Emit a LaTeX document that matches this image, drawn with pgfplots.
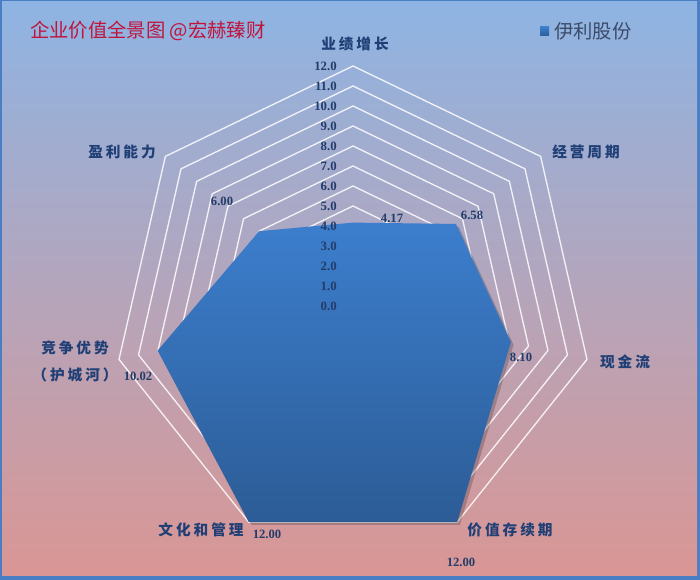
\documentclass[border=0pt]{standalone}
\usepackage{pgfplots}
\pgfplotsset{compat=1.18}
\usepackage{pgfplotstable}
\usepgfplotslibrary{polar}
\usepackage{fontspec}
\setmainfont{Liberation Serif}
\newfontfamily\cjk{Noto Sans CJK SC}
\newfontfamily\cjkcat[LetterSpace=20]{Noto Sans CJK SC}

\definecolor{bgTop}{RGB}{142,180,227}
\definecolor{bgBot}{RGB}{218,150,148}
\definecolor{frame}{RGB}{74,126,196}
\definecolor{polyTop}{RGB}{60,126,205}
\definecolor{polyBot}{RGB}{44,92,150}
\definecolor{titleRed}{RGB}{192,20,60}
\definecolor{labBlue}{RGB}{31,63,118}
\definecolor{numBlue}{RGB}{35,60,105}
\definecolor{legGray}{RGB}{60,75,105}

% angle (deg, polar) and value for each of the seven spokes
\pgfplotstableread{
angle value
90 4.17
38.571 6.58
347.143 8.10
295.714 12.00
244.286 12.00
192.857 10.02
141.429 6.00
90 4.17
}\radar

\begin{document}
\begin{tikzpicture}[x=0.75pt,y=-0.75pt]
% background and frame
\fill[frame] (0,0) rectangle (700,580);
\shade[top color=bgTop, bottom color=bgBot] (2,2) rectangle (697,576);
\coordinate (C) at (353,306);

\begin{polaraxis}[
  at={(C)}, anchor=origin,
  width=360pt, height=360pt, scale only axis,
  xmin=0, xmax=360, ymin=0, ymax=12,
  hide axis, clip=false, no markers,
]
% heptagonal rings
\pgfplotsinvokeforeach{1,...,12}{
  \addplot[white, opacity=0.85, line width=1pt] coordinates {
    (90,#1) (38.571,#1) (347.143,#1) (295.714,#1)
    (244.286,#1) (192.857,#1) (141.429,#1) (90,#1)};
}
% shadow and area
\addplot[draw=none, fill=black, opacity=0.2, xshift=2pt, yshift=-2pt]
  table[x=angle, y=value] {\radar};
\addplot[draw=none, top color=polyTop, bottom color=polyBot]
  table[x=angle, y=value] {\radar};
\end{polaraxis}

% radial tick labels
\foreach \k in {0,...,12}{
  \node[anchor=east, font=\bfseries\fontsize{9.6}{11}\selectfont, text=numBlue, inner sep=0pt]
    at (337,306-20*\k) {\k.0};
}

% data labels
\begin{scope}[every node/.style={font=\bfseries\fontsize{9.5}{11}\selectfont, text=numBlue, inner sep=0pt}]
\node at (392,218) {4.17};
\node at (472,215) {6.58};
\node at (521,357) {8.10};
\node at (461,562) {12.00};
\node at (267,534) {12.00};
\node at (138,376) {10.02};
\node at (222,201) {6.00};
\end{scope}

% category labels
\begin{scope}[every node/.style={font=\cjkcat\bfseries\fontsize{11}{13}\selectfont, text=labBlue, inner sep=0pt}]
\node at (355,44) {业绩增长};
\node at (586,152) {经营周期};
\node at (625,362) {现金流};
\node at (510,530) {价值存续期};
\node at (201,530) {文化和管理};
\node at (75,348) {竞争优势};
\node at (75,375) {（护城河）};
\node at (122,152) {盈利能力};
\end{scope}

% title and legend
\node[anchor=west, inner sep=0pt, text=titleRed, font=\cjk\fontsize{14.5}{16}\selectfont] at (30,31) {企业价值全景图 @宏赫臻财};
\fill[top color=polyTop, bottom color=polyBot] (540,27) rectangle (549,36);
\node[anchor=west, inner sep=0pt, text=legGray, font=\cjk\fontsize{14.5}{16}\selectfont] at (554,31) {伊利股份};
\end{tikzpicture}
\end{document}
